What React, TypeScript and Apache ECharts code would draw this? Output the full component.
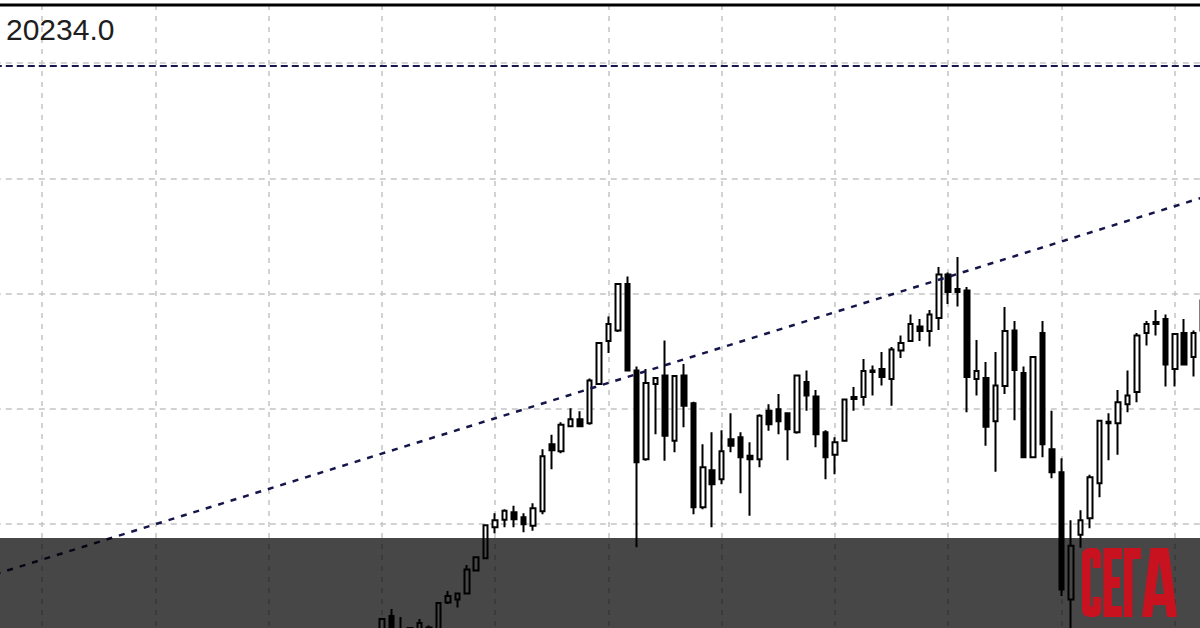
import React, { useEffect, useRef } from "react";
import * as echarts from "echarts";

// 129 bar slots; the first PAD bars lie below the visible window of the picture.
const categories: string[] = Array.from({ length: 129 }, (_, i) => `${i + 1}`);
const PAD = 41;

const opens = [
  19098, 19136, 19086, 19112, 19094, 19102, 19106, 19163, 19169, 19181,
  19227, 19251, 19313, 19328, 19343, 19333, 19316, 19345, 19479, 19465,
  19515, 19529, 19521, 19599, 19685, 19706, 19799, 19626, 19449, 19599,
  19616, 19486, 19616, 19561, 19353, 19427, 19409, 19489, 19493, 19456,
  19449, 19546, 19549, 19541, 19503, 19603, 19574, 19503, 19458, 19486,
  19569, 19573, 19623, 19629, 19609, 19666, 19685, 19714, 19705, 19731,
  19818, 19789, 19786, 19609, 19611, 19525, 19595, 19706, 19621, 19453,
  19701, 19469, 19423, 19169, 19298, 19331, 19401, 19524, 19521, 19559,
  19583, 19701, 19723, 19729, 19629, 19701, 19653, 19706,
];
const closes = [
  19130, 19102, 19106, 19098, 19122, 19113, 19162, 19176, 19181, 19229,
  19253, 19317, 19327, 19346, 19329, 19319, 19351, 19455, 19467, 19518,
  19529, 19515, 19606, 19681, 19719, 19799, 19626, 19443, 19601, 19611,
  19496, 19615, 19556, 19353, 19433, 19399, 19465, 19476, 19453, 19449,
  19536, 19519, 19525, 19509, 19616, 19576, 19499, 19453, 19483, 19568,
  19573, 19625, 19626, 19613, 19668, 19681, 19719, 19705, 19738, 19818,
  19783, 19783, 19613, 19625, 19514, 19596, 19705, 19627, 19453, 19653,
  19479, 19423, 19189, 19276, 19327, 19413, 19526, 19521, 19563, 19576,
  19696, 19719, 19719, 19638, 19699, 19638, 19701, 19766,
];
const lows = [
  19086, 19090, 19082, 19086, 19086, 19094, 19102, 19160, 19153, 19180,
  19226, 19250, 19301, 19313, 19313, 19303, 19306, 19339, 19429, 19461,
  19515, 19515, 19518, 19599, 19661, 19703, 19626, 19273, 19446, 19499,
  19446, 19463, 19513, 19339, 19349, 19313, 19399, 19463, 19381, 19336,
  19433, 19506, 19499, 19447, 19500, 19546, 19473, 19409, 19419, 19484,
  19546, 19556, 19576, 19596, 19556, 19651, 19685, 19685, 19674, 19707,
  19759, 19754, 19543, 19576, 19476, 19424, 19579, 19527, 19453, 19453,
  19453, 19411, 19176, 19102, 19272, 19311, 19373, 19447, 19458, 19543,
  19563, 19676, 19696, 19594, 19594, 19638, 19614, 19696,
];
const highs = [
  19132, 19150, 19134, 19114, 19130, 19117, 19164, 19186, 19182, 19238,
  19254, 19318, 19341, 19349, 19356, 19341, 19361, 19469, 19498, 19523,
  19551, 19545, 19610, 19681, 19734, 19799, 19814, 19634, 19629, 19612,
  19686, 19616, 19639, 19564, 19479, 19503, 19507, 19541, 19503, 19483,
  19539, 19559, 19579, 19541, 19616, 19626, 19587, 19507, 19493, 19568,
  19593, 19649, 19636, 19663, 19673, 19696, 19738, 19729, 19747, 19833,
  19822, 19853, 19793, 19687, 19643, 19663, 19753, 19725, 19634, 19653,
  19725, 19546, 19451, 19327, 19347, 19418, 19526, 19541, 19587, 19626,
  19701, 19725, 19747, 19738, 19701, 19729, 19706, 19772,
];

const LEVEL = 20234;
const TREND_START = 19219;
const TREND_END = 19972;

const Y_MIN = 19090;
const Y_MAX = 20356;
const Y_STEP = 230;

const LOGO_D =
  "M8 0H12Q19 0 19 8V20H11V12Q11 10 9.75 10Q8.5 10 8.5 12V57Q8.5 59 9.75 59Q11 59 11 57V49H19V61Q19 69 12 69H8Q0 69 0 61V8Q0 0 8 0Z" +
  "M21.5 0H40V11H30V29H38V40H30V58H40V69H21.5Z" +
  "M42 0H59V11H50.5V69H42Z" +
  "M68.5 0H86.5L95 69H85L83.5 57H71.5L70 69H60ZM77.5 13L73 46H82Z";

let logoRegistered = false;

export default function App() {
  const ref = useRef<HTMLDivElement>(null);

  useEffect(() => {
    if (!ref.current) return;
    if (!logoRegistered) {
      echarts.graphic.registerShape("segaLogo", echarts.graphic.extendPath(LOGO_D, {}));
      logoRegistered = true;
    }
    const chart = echarts.init(ref.current, null, { renderer: "svg" });

    const candleData = categories.map((_, i) =>
      i < PAD
        ? ["-", "-", "-", "-"]
        : [opens[i - PAD], closes[i - PAD], lows[i - PAD], highs[i - PAD]]
    );

    const option: any = {
      animation: false,
      backgroundColor: "#ffffff",
      grid: { left: 14.8, right: 6.9, top: 5, bottom: 1, containLabel: false },
      xAxis: {
        type: "category",
        data: categories,
        boundaryGap: false,
        axisLine: { show: false },
        axisTick: { show: false },
        axisLabel: { show: false },
        splitLine: {
          show: true,
          interval: (index: number) => index % 12 === 5,
          lineStyle: { color: "#c4c4c4", width: 1.5, type: [5, 6] },
        },
      },
      yAxis: {
        type: "value",
        min: Y_MIN,
        max: Y_MAX,
        interval: Y_STEP,
        axisLine: { show: false },
        axisTick: { show: false },
        axisLabel: { show: false },
        splitLine: {
          show: true,
          lineStyle: { color: "#c4c4c4", width: 1.5, type: [6, 5] },
        },
      },
      series: [
        {
          type: "candlestick",
          data: candleData,
          barWidth: 5,
          clip: false,
          silent: true,
          itemStyle: {
            color: "#ffffff",
            color0: "#000000",
            borderColor: "#000000",
            borderColor0: "#000000",
            borderColorDoji: "#000000",
            borderWidth: 2,
          },
          markLine: {
            silent: true,
            symbol: ["none", "none"],
            label: { show: false },
            animation: false,
            data: [
              {
                yAxis: LEVEL,
                lineStyle: { color: "#18184f", width: 2, type: [7, 4] },
              },
              [
                {
                  coord: [categories[0], TREND_START],
                  lineStyle: { color: "#15154a", width: 2.5, type: [6, 7] },
                },
                { coord: [categories[categories.length - 1], TREND_END] },
              ],
            ],
          },
        },
      ],
      graphic: [
        {
          type: "rect",
          z: 50,
          shape: { x: 0, y: 3.5, width: 1230, height: 3 },
          style: { fill: "#000000" },
        },
        {
          type: "text",
          z: 50,
          x: 26,
          y: 29.5,
          style: {
            text: LEVEL.toFixed(1),
            fontSize: 30,
            fontFamily: "Liberation Sans",
            fill: "#1e1e1e",
            verticalAlign: "middle",
          },
        },
        {
          type: "rect",
          z: 60,
          shape: { x: 0, y: 538, width: 1230, height: 102 },
          style: { fill: "rgba(0,0,0,0.72)" },
        },
        {
          type: "segaLogo",
          z: 70,
          x: 1102,
          y: 548,
          style: { fill: "#c8121f" },
        },
      ],
    };

    chart.setOption(option);
    return () => chart.dispose();
  }, []);

  return (
    <div
      style={{
        position: "fixed",
        left: 0,
        top: 0,
        width: 1200,
        height: 628,
        overflow: "hidden",
        background: "#ffffff",
      }}
    >
      <div
        ref={ref}
        style={{ position: "absolute", left: -20, top: 0, width: 1230, height: 640 }}
      />
    </div>
  );
}
